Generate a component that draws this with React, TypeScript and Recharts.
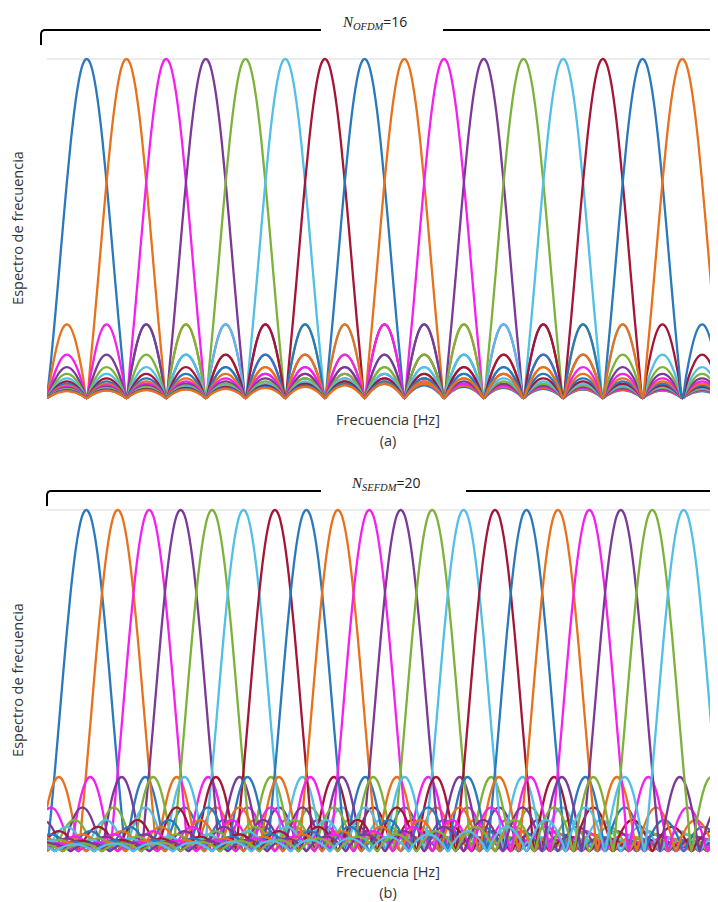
import React from "react";
import { LineChart, Line, XAxis, YAxis, ReferenceLine } from "recharts";

// centros de las subportadoras (en unidades de 1/T)
const ofdmCentres = [0, 1, 2, 3, 4, 5, 6, 7, 8, 9, 10, 11, 12, 13, 14, 15];
const sefdmCentres = [0, 0.8, 1.6, 2.4, 3.2, 4, 4.8, 5.6, 6.4, 7.2, 8, 8.8, 9.6, 10.4, 11.2, 12, 12.8, 13.6, 14.4, 15.2];

// forma del lóbulo principal (de 0 a 1, paso 0.1)
const mainLobe = [1, 0.984, 0.935, 0.858, 0.757, 0.637, 0.505, 0.368, 0.234, 0.109];
// forma normalizada de un lóbulo secundario
const sideShape = [0, 0.309, 0.588, 0.809, 0.951, 1, 0.951, 0.809, 0.588, 0.309];
// altura de los lóbulos secundarios
const sidePeaks = [0.217, 0.128, 0.091, 0.071, 0.058, 0.049, 0.042, 0.037, 0.033, 0.03, 0.027, 0.025, 0.023, 0.022, 0.02, 0.019, 0.018, 0.017];

const colors = ["#2a78bd", "#e8711c", "#f51ff0", "#7a3a96", "#7db23a", "#52bfe6", "#a51535"];

function buildTable(centres: number[], xMax: number) {
  const cs = centres.map((c) => Math.round(c * 10));
  const rows: any[] = [];
  for (let i = -10; i <= Math.round(xMax * 10); i++) {
    const row: any = { x: i / 10 };
    cs.forEach((c, k) => {
      const d = Math.abs(i - c);
      const n = Math.floor(d / 10);
      const j = d % 10;
      row[`s${k}`] = n === 0 ? mainLobe[j] : sideShape[j] * (sidePeaks[n - 1] ?? 0.016);
    });
    rows.push(row);
  }
  return rows;
}

const ofdmData = buildTable(ofdmCentres, 16);
const sefdmData = buildTable(sefdmCentres, 16.2);

const labelFont = { fontFamily: "'Open Sans', sans-serif", fontSize: 14.5, color: "#333" };

function Spectrum({ data, count, xMax, width, plotH }: any) {
  return (
    <LineChart width={width} height={plotH + 53} data={data} margin={{ top: 51, left: 39, right: 0, bottom: 2 }}>
      <XAxis type="number" dataKey="x" domain={[-1, xMax]} allowDataOverflow tick={false} height={0} axisLine={{ stroke: "#d9d9d9" }} tickLine={false} />
      <YAxis type="number" domain={[0, 1]} tick={false} width={0} axisLine={{ stroke: "#d9d9d9" }} tickLine={false} />
      <ReferenceLine y={1} stroke="#d9d9d9" />
      {Array.from({ length: count }, (_, k) => (
        <Line
          key={k}
          type="monotone"
          dataKey={`s${k}`}
          stroke={colors[k % colors.length]}
          strokeWidth={2.3}
          dot={false}
          isAnimationActive={false}
        />
      ))}
    </LineChart>
  );
}

function Bracket({ top, left, gapStart, gapEnd, sub, value, textLeft }: any) {
  return (
    <>
      <div style={{ position: "absolute", left, top, width: gapStart - left, height: 14, borderTop: "2px solid #000", borderLeft: "2px solid #000", borderTopLeftRadius: 5 }} />
      <div style={{ position: "absolute", left: gapEnd, top, width: 300, borderTop: "2px solid #000" }} />
      <div style={{ position: "absolute", left: textLeft, top: top - 19, whiteSpace: "nowrap", fontFamily: "'Open Sans', sans-serif", color: "#222" }}>
        <span style={{ fontFamily: "'Liberation Serif', serif", fontStyle: "italic", fontSize: 15 }}>N</span>
        <span style={{ fontFamily: "'Liberation Serif', serif", fontStyle: "italic", fontSize: 10.5, position: "relative", top: 3 }}>{sub}</span>
        <span style={{ fontSize: 14 }}>={value}</span>
      </div>
    </>
  );
}

function YLabel({ cy }: any) {
  return (
    <div style={{ position: "absolute", left: 9, top: cy, transform: "translate(-50%, -50%) rotate(-90deg)", whiteSpace: "nowrap", ...labelFont }}>
      Espectro de frecuencia
    </div>
  );
}

function XLabel({ top, tag }: any) {
  return (
    <div style={{ position: "absolute", left: 380, top, transform: "translateX(-50%)", textAlign: "center", lineHeight: "21px", whiteSpace: "nowrap", ...labelFont }}>
      Frecuencia [Hz]
      <br />
      {tag}
    </div>
  );
}

export default function App() {
  return (
    <div style={{ position: "relative", width: 710, height: 894, overflow: "hidden", background: "#fff" }}>
      <Bracket top={21} left={32} gapStart={311} gapEnd={435} sub="OFDM" value="16" textLeft={335} />
      <div style={{ position: "absolute", left: 0, top: 0 }}>
        <Spectrum data={ofdmData} count={ofdmCentres.length} xMax={16} width={714} plotH={339} />
      </div>
      <YLabel cy={220} />
      <XLabel top={401} tag="(a)" />

      <Bracket top={482} left={38} gapStart={311} gapEnd={458} sub="SEFDM" value="20" textLeft={344} />
      <div style={{ position: "absolute", left: 0, top: 451 }}>
        <Spectrum data={sefdmData} count={sefdmCentres.length} xMax={16.2} width={715} plotH={341} />
      </div>
      <YLabel cy={672} />
      <XLabel top={853} tag="(b)" />
    </div>
  );
}
